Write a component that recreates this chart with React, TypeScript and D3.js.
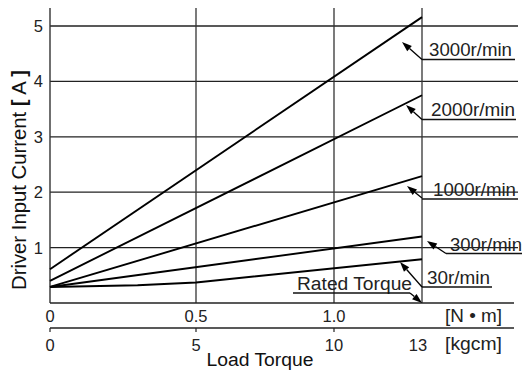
import React from "react";
import * as d3 from "d3";

const W = 526;
const H = 371;

// x in kgcm
const kgcmTicks = [0, 5, 10, 13];
const kgcmLabels = ["0", "5", "10", "13"];
const nmTicks = [0, 5, 10]; // positions (kgcm-equivalent)
const nmLabels = ["0", "0.5", "1.0"];
const yTicks = [1, 2, 3, 4, 5];

const seriesNames = ["3000r/min", "2000r/min", "1000r/min", "300r/min", "30r/min"];
const xs3000 = [0, 13];
const ys3000 = [0.61, 5.16];
const xs2000 = [0, 13];
const ys2000 = [0.4, 3.75];
const xs1000 = [0, 13];
const ys1000 = [0.29, 2.29];
const xs300 = [0, 13];
const ys300 = [0.29, 1.2];
const xs30 = [0, 3, 5, 13];
const ys30 = [0.29, 0.32, 0.37, 0.79];

const seriesX = [xs3000, xs2000, xs1000, xs300, xs30];
const seriesY = [ys3000, ys2000, ys1000, ys300, ys30];

const FONT = "'Liberation Sans', Arial, sans-serif";

export default function App() {
  const x = d3.scaleLinear().domain([0, 5, 10, 13]).range([50, 196, 334, 422]);
  const y = d3.scaleLinear().domain([0, 5]).range([303, 26]);
  const line = d3
    .line<[number, number]>()
    .x((d) => x(d[0]))
    .y((d) => y(d[1]));

  const xr = x(13);
  const arrow = (x1: number, y1: number, x2: number, y2: number, key: string) => {
    const ang = Math.atan2(y2 - y1, x2 - x1);
    const L = 10;
    const w = 3.5;
    const bx = x2 - L * Math.cos(ang);
    const by = y2 - L * Math.sin(ang);
    const px = -Math.sin(ang) * w;
    const py = Math.cos(ang) * w;
    return (
      <g key={key}>
        <line x1={x1} y1={y1} x2={bx} y2={by} stroke="#000" strokeWidth={1.3} />
        <path d={`M${x2},${y2}L${bx + px},${by + py}L${bx - px},${by - py}Z`} fill="#000" />
      </g>
    );
  };

  const ann = [
    { t: seriesNames[0], tx: 429, by: 56, uy: 59.5, ux1: xr, ux2: 515, tl: 83, ax: xr, ay: 59.5, tipX: 402, tipY: 42 },
    { t: seriesNames[1], tx: 431, by: 116, uy: 119.5, ux1: xr, ux2: 516, tl: 84, ax: xr, ay: 119.5, tipX: 406, tipY: 105 },
    { t: seriesNames[2], tx: 433, by: 196, uy: 199, ux1: xr, ux2: 518, tl: 83, ax: xr, ay: 198, tipX: 407, tipY: 186 },
    { t: seriesNames[3], tx: 450, by: 251, uy: 253.5, ux1: 446, ux2: 522, tl: 72, ax: 446, ay: 253.5, tipX: 427, tipY: 241 },
    { t: seriesNames[4], tx: 427, by: 284, uy: 287, ux1: xr, ux2: 492, tl: 63, ax: xr, ay: 287, tipX: 400, tipY: 262 },
  ];

  return (
    <svg width={W} height={H} style={{ position: "absolute", left: 0, top: 0, background: "#fff" }} fontFamily={FONT}>
      <rect x={0} y={0} width={W} height={H} fill="#fff" />
      {/* horizontal grid */}
      {yTicks.map((t) => (
        <line key={"h" + t} x1={50} x2={518} y1={y(t)} y2={y(t)} stroke="#222" strokeWidth={1.3} />
      ))}
      {/* vertical grid */}
      {[5, 10, 13].map((t) => (
        <line key={"v" + t} x1={x(t)} x2={x(t)} y1={8} y2={303} stroke="#333" strokeWidth={1.3} />
      ))}
      {/* axes */}
      <line x1={50} x2={50} y1={8} y2={303} stroke="#333" strokeWidth={1.4} />
      <line x1={50} x2={514} y1={303} y2={303} stroke="#222" strokeWidth={1.4} />
      <line x1={50} x2={514} y1={328} y2={328} stroke="#222" strokeWidth={1.4} />
      {[0, 5, 10].map((t) => (
        <line key={"kt" + t} x1={x(t)} x2={x(t)} y1={328} y2={332} stroke="#222" strokeWidth={1.2} />
      ))}

      {/* series */}
      {seriesX.map((xsArr, i) => (
        <path
          key={"s" + i}
          d={line(xsArr.map((v, j) => [v, seriesY[i][j]] as [number, number])) || ""}
          fill="none"
          stroke="#000"
          strokeWidth={1.9}
          strokeLinejoin="round"
        />
      ))}

      {/* annotations */}
      {ann.map((a, i) => (
        <g key={"a" + i}>
          <text x={a.tx} y={a.by} fontSize={18.5} textLength={a.tl} lengthAdjust="spacingAndGlyphs" fill="#222">
            {a.t}
          </text>
          <line x1={a.ux1} x2={a.ux2} y1={a.uy} y2={a.uy} stroke="#111" strokeWidth={1.3} />
          {arrow(a.ax, a.ay, a.tipX, a.tipY, "ar" + i)}
        </g>
      ))}
      {/* Rated torque */}
      <text x={297} y={290} fontSize={18.8} textLength={115} lengthAdjust="spacingAndGlyphs" fill="#222">
        Rated Torque
      </text>
      <line x1={293} x2={410} y1={293} y2={293} stroke="#111" strokeWidth={1.3} />
      {arrow(410, 293, x(13), 303, "rt")}

      {/* y tick labels */}
      {yTicks.map((t) => (
        <text key={"yl" + t} x={43} y={y(t) + 6} fontSize={16.5} textAnchor="end" fill="#222">
          {t}
        </text>
      ))}
      {/* N·m labels */}
      {nmTicks.map((t, i) => (
        <text key={"nl" + t} x={x(t)} y={322} fontSize={16.5} textAnchor="middle" fill="#222">
          {nmLabels[i]}
        </text>
      ))}
      <text x={445} y={322} fontSize={18.5} textLength={57} lengthAdjust="spacingAndGlyphs" fill="#222">
        [N • m]
      </text>
      {/* kgcm labels */}
      {kgcmTicks.map((t, i) => (
        <text key={"kl" + t} x={x(t) - (t === 13 ? 4 : 0)} y={351} fontSize={16.5} textAnchor="middle" fill="#222">
          {kgcmLabels[i]}
        </text>
      ))}
      <text x={445} y={350} fontSize={18.5} textLength={57} lengthAdjust="spacingAndGlyphs" fill="#222">
        [kgcm]
      </text>
      <text x={260} y={366} fontSize={18.8} textAnchor="middle" textLength={107} lengthAdjust="spacingAndGlyphs" fill="#111">
        Load Torque
      </text>
      {/* y axis title */}
      <text
        transform={`translate(25.5,180) rotate(-90)`}
        fontSize={20}
        textAnchor="middle"
        textLength={220}
        lengthAdjust="spacingAndGlyphs"
        fill="#111"
      >
        Driver Input Current <tspan fontWeight="bold">[</tspan> A <tspan fontWeight="bold">]</tspan>
      </text>
    </svg>
  );
}
